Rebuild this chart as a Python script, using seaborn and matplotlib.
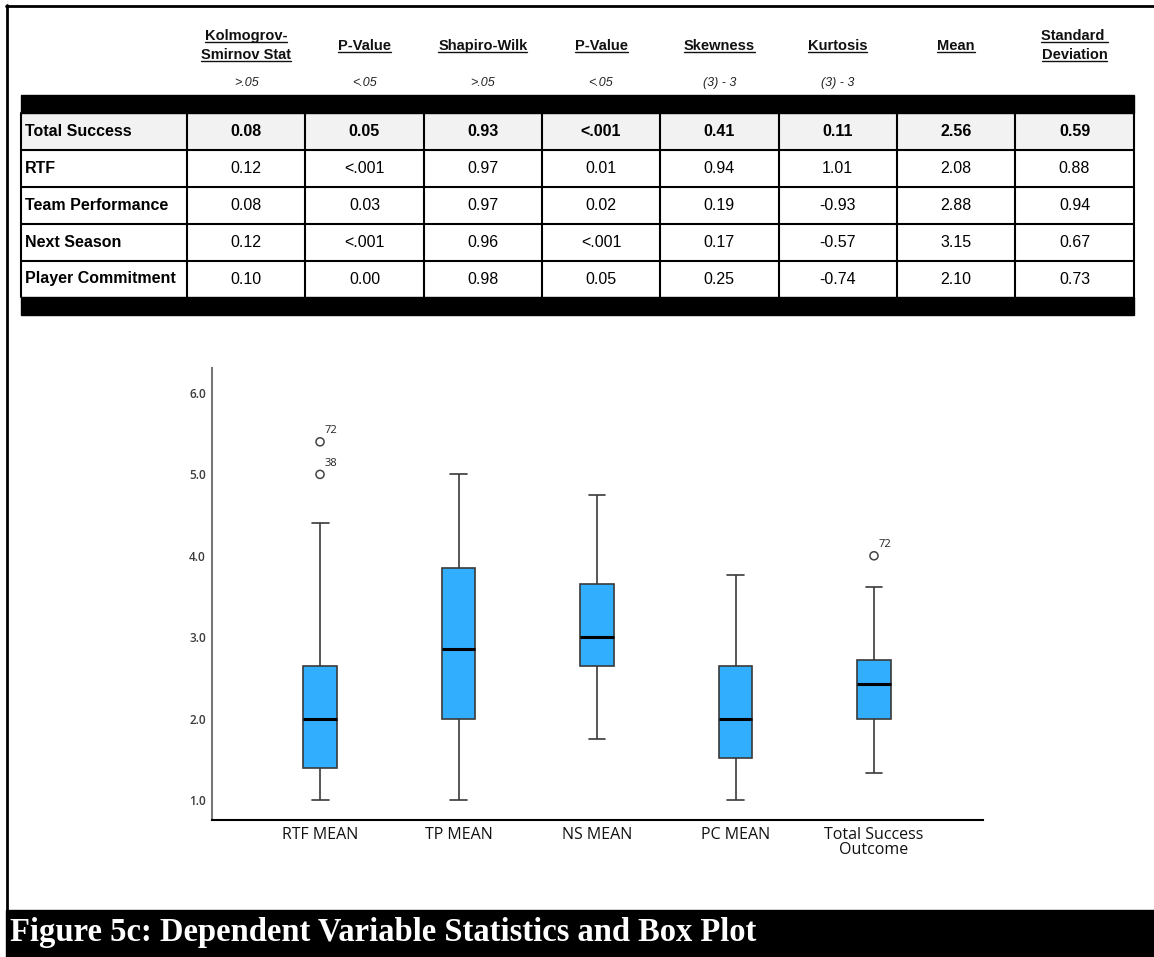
import numpy as np
import pandas as pd
import matplotlib
matplotlib.use("Agg")
import matplotlib.pyplot as plt
from matplotlib.patches import Rectangle
import seaborn as sns

# ---- table data ----
row_labels = ["Total Success", "RTF", "Team Performance", "Next Season", "Player Commitment"]
col_headers = ["Kolmogrov-\nSmirnov Stat", "P-Value", "Shapiro-Wilk", "P-Value",
               "Skewness", "Kurtosis", "Mean", "Standard \nDeviation"]
col_criteria = [">.05", "<.05", ">.05", "<.05", "(3) - 3", "(3) - 3", "", ""]
ks_stat = ["0.08", "0.12", "0.08", "0.12", "0.10"]
ks_p = ["0.05", "<.001", "0.03", "<.001", "0.00"]
sw_stat = ["0.93", "0.97", "0.97", "0.96", "0.98"]
sw_p = ["<.001", "0.01", "0.02", "<.001", "0.05"]
skewness = ["0.41", "0.94", "0.19", "0.17", "0.25"]
kurtosis = ["0.11", "1.01", "-0.93", "-0.57", "-0.74"]
means = ["2.56", "2.08", "2.88", "3.15", "2.10"]
std_dev = ["0.59", "0.88", "0.94", "0.67", "0.73"]

# ---- box plot data (five-number summaries) ----
categories = ["RTF MEAN", "TP MEAN", "NS MEAN", "PC MEAN", "Total Success\nOutcome"]
whisker_low = [1.0, 1.0, 1.75, 1.0, 1.33]
q1 = [1.39, 2.0, 2.65, 1.52, 2.0]
median = [2.0, 2.85, 3.0, 2.0, 2.42]
q3 = [2.64, 3.85, 3.65, 2.65, 2.72]
whisker_high = [4.4, 5.0, 4.75, 3.77, 3.62]
outlier_var = ["RTF MEAN", "RTF MEAN", "Total Success\nOutcome"]
outlier_val = [5.4, 5.0, 4.0]
outlier_id = ["72", "38", "72"]

sns.set_style("white")
plt.rcParams["font.family"] = ["Liberation Sans", "DejaVu Sans"]

W, H = 1154, 957
fig = plt.figure(figsize=(W / 100, H / 100), dpi=100)

# background axes in pixel coordinates for the table / frame / caption
bg = fig.add_axes([0, 0, 1, 1])
bg.set_xlim(0, W)
bg.set_ylim(H, 0)
bg.axis("off")

lw = 1.5
# figure frame
bg.plot([6, W], [6, 6], color="black", lw=2)
bg.plot([7, 7], [5, H], color="black", lw=2)

# table geometry
tx0, tx1 = 21, 1134
col_edges = [187 + 118.3 * k for k in range(9)]
col_edges[-1] = tx1
col_centers = [(col_edges[k] + col_edges[k + 1]) / 2 for k in range(8)]
row_edges = [113, 150, 187, 224, 261, 297]

bg.add_patch(Rectangle((tx0, 95), tx1 - tx0, 18, color="black"))
bg.add_patch(Rectangle((tx0, 297), tx1 - tx0, 18, color="black"))
bg.add_patch(Rectangle((tx0, 113), tx1 - tx0, 37, color="#f2f2f2", zorder=0))
for y in row_edges[1:-1]:
    bg.plot([tx0, tx1], [y, y], color="black", lw=lw)
for x in [tx0] + col_edges:
    bg.plot([x, x], [113, 297], color="black", lw=lw)

renderer = fig.canvas.get_renderer()
inv = bg.transData.inverted()

# headers with underline
for cx, head, crit in zip(col_centers, col_headers, col_criteria):
    lines = head.split("\n")
    ys = [40, 59] if len(lines) == 2 else [50]
    for line, yb in zip(lines, ys):
        t = bg.text(cx, yb, line, ha="center", va="baseline", fontsize=10.5,
                    fontweight="bold", color="#111")
        bb = t.get_window_extent(renderer)
        (xa, _), (xb, _) = inv.transform([[bb.x0, 0], [bb.x1, 0]])
        bg.plot([xa, xb], [yb + 2, yb + 2], color="#111", lw=1)
    if crit:
        bg.text(cx, 83, crit, ha="center", va="center", fontsize=9,
                fontstyle="italic", color="#222")

columns = [ks_stat, ks_p, sw_stat, sw_p, skewness, kurtosis, means, std_dev]
for i, lab in enumerate(row_labels):
    yc = (row_edges[i] + row_edges[i + 1]) / 2
    weight = "bold" if i == 0 else "normal"
    bg.text(25, yc, lab, ha="left", va="center", fontsize=11.5, fontweight="bold", color="black")
    for cx, col in zip(col_centers, columns):
        bg.text(cx, yc, col[i], ha="center", va="center", fontsize=11.5,
                fontweight=weight, color="black")

# caption band
bg.add_patch(Rectangle((6, 910), W - 6, H - 910, color="black"))
bg.text(10, 933, "Figure 5c: Dependent Variable Statistics and Box Plot", ha="left",
        va="center", fontsize=23.5, fontweight="bold", family=["Liberation Serif"], color="white")

# ---- box plot ----
ax = fig.add_axes([212 / W, 1 - 820 / H, (983 - 212) / W, (820 - 368) / H])
ax.patch.set_alpha(0)

long_df = pd.DataFrame({
    "variable": np.repeat(categories, 5),
    "value": np.column_stack([whisker_low, q1, median, q3, whisker_high]).ravel(),
})

sns.boxplot(data=long_df, x="variable", y="value", order=categories, whis=(0, 100),
            width=0.245, color="#32aeff", saturation=1, linecolor="#3a3a3a", linewidth=1.2,
            medianprops={"color": "black", "linewidth": 2.2}, ax=ax)

out_pos = [categories.index(v) for v in outlier_var]
sns.scatterplot(x=out_pos, y=outlier_val, marker="o", s=34, facecolor="none",
                edgecolor="#444", linewidth=1.1, ax=ax)
for xp, yv, lab in zip(out_pos, outlier_val, outlier_id):
    ax.annotate(lab, (xp, yv), xytext=(3.5, 4), textcoords="offset points",
                ha="left", va="bottom", fontsize=8, family=["Open Sans", "DejaVu Sans"],
                color="#222")

ax.set_xlim(-0.78, 4.787)
ax.set_ylim(0.754, 6.307)
ax.set_yticks([1, 2, 3, 4, 5, 6])
ax.set_yticklabels(["1.0", "2.0", "3.0", "4.0", "5.0", "6.0"])
ax.set_xlabel("")
ax.set_ylabel("")
ax.tick_params(axis="both", length=0)
ax.tick_params(axis="y", pad=4.5, labelsize=8.5, labelcolor="#3c3c3c")
ax.tick_params(axis="x", pad=5, labelsize=11.5, labelcolor="#111")
for t in ax.get_yticklabels():
    t.set_family(["Open Sans", "DejaVu Sans"])
    t.set_fontweight("semibold")
for t in ax.get_xticklabels():
    t.set_family(["Open Sans", "DejaVu Sans"])
    t.set_linespacing(0.95)
sns.despine(ax=ax, top=True, right=True)
ax.spines["left"].set_color("#777")
ax.spines["left"].set_linewidth(1.5)
ax.spines["bottom"].set_color("black")
ax.spines["bottom"].set_linewidth(1.5)

fig.savefig("out.png", dpi=100)
